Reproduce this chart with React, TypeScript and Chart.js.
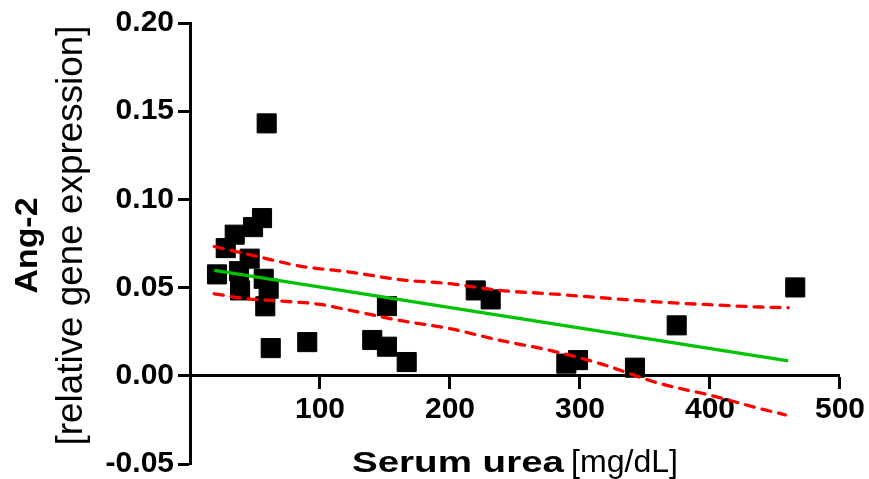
import React, { useEffect, useRef } from "react";
import { Chart, registerables } from "chart.js";

Chart.register(...registerables);

// ---- data ----
const UREA_X = [20.8, 27.5, 34.4, 48.5, 55.4, 59.0, 45.9, 37.7, 38.5, 60.5, 56.7, 57.9, 62.1, 90.2, 140.2, 151.5, 166.7, 151.5, 219.8, 231.3, 289.5, 298.5, 342.3, 374.4, 465.6];
const ANG2_Y = [0.0575, 0.0724, 0.08, 0.0843, 0.0894, 0.1431, 0.0664, 0.0593, 0.0484, 0.0494, 0.055, 0.0394, 0.0157, 0.0191, 0.0203, 0.0165, 0.0078, 0.0395, 0.0484, 0.0433, 0.0069, 0.0089, 0.0046, 0.0286, 0.0501];

const FIT_X = [18.7, 460.2];
const FIT_Y = [0.0597, 0.0084];

const UPPER_X = [18.7, 53.8, 84.6, 123.1, 161.5, 200, 238.5, 276.9, 315.4, 361.5, 400, 438.5, 460.2];
const UPPER_Y = [0.0733, 0.0673, 0.0622, 0.0588, 0.0545, 0.0522, 0.0484, 0.0465, 0.0443, 0.0418, 0.0403, 0.039, 0.0386];

const LOWER_X = [18.7, 43.6, 69.2, 100, 123.1, 161.5, 200, 238.5, 276.9, 315.4, 361.5, 400, 438.5, 458];
const LOWER_Y = [0.0465, 0.0437, 0.0424, 0.0405, 0.0371, 0.0314, 0.0267, 0.0201, 0.0144, 0.0069, -0.0044, -0.011, -0.0186, -0.0221];

const X_TICKS = [100, 200, 300, 400, 500];
const Y_TICKS = [-0.05, 0, 0.05, 0.1, 0.15, 0.2];

const X_TITLE_BOLD = "Serum urea";
const X_TITLE_UNIT = "[mg/dL]";
const Y_TITLE_BOLD = "Ang-2";
const Y_TITLE_SUB = "[relative gene expression]";

const FONT = '"Liberation Sans", Arial, Helvetica, sans-serif';

const zip = (xs: number[], ys: number[]) => xs.map((x, i) => ({ x, y: ys[i] }));

// draw text stretched along its own direction to a target length
function fillStretched(ctx: CanvasRenderingContext2D, text: string, x: number, y: number, target: number) {
  const w = ctx.measureText(text).width;
  const s = target / w;
  ctx.save();
  ctx.translate(x, y);
  ctx.scale(s, 1);
  ctx.fillText(text, 0, 0);
  ctx.restore();
}

const titlePlugin = {
  id: "axisTitles",
  afterDraw(chart: any) {
    const { ctx, chartArea } = chart;
    ctx.save();
    ctx.fillStyle = "#000";
    ctx.textBaseline = "alphabetic";
    ctx.textAlign = "left";

    // x title
    const boldW = 212;
    const unitW = 107;
    const gap = 7;
    const total = boldW + gap + unitW;
    const cx = (chartArea.left + chartArea.right) / 2;
    const x0 = cx - total / 2;
    const by = chart.height - 7.5;
    ctx.font = `bold 30px ${FONT}`;
    fillStretched(ctx, X_TITLE_BOLD, x0, by, boldW);
    ctx.font = `32px ${FONT}`;
    fillStretched(ctx, X_TITLE_UNIT, x0 + boldW + gap, by, unitW);

    // y title
    const cy = (chartArea.top + chartArea.bottom) / 2;
    ctx.save();
    ctx.translate(37, cy + 2);
    ctx.rotate(-Math.PI / 2);
    ctx.font = `bold 31px ${FONT}`;
    fillStretched(ctx, Y_TITLE_BOLD, -48, 0, 96);
    ctx.restore();
    ctx.save();
    ctx.translate(81.5, cy - 8);
    ctx.rotate(-Math.PI / 2);
    ctx.font = `37px ${FONT}`;
    fillStretched(ctx, Y_TITLE_SUB, -210, 0, 420);
    ctx.restore();

    ctx.restore();
  },
};

export default function App() {
  const ref = useRef<HTMLCanvasElement | null>(null);

  useEffect(() => {
    document.body.style.margin = "0";
    const canvas = ref.current;
    if (!canvas) return;
    const chart = new Chart(canvas, {
      type: "scatter",
      data: {
        datasets: [
          {
            type: "line",
            label: "fit",
            data: zip(FIT_X, FIT_Y),
            borderColor: "#00c400",
            borderWidth: 3.3,
            pointRadius: 0,
            fill: false,
            order: 0,
          },
          {
            type: "line",
            label: "upper",
            data: zip(UPPER_X, UPPER_Y),
            borderColor: "#ff0000",
            borderWidth: 3.3,
            borderDash: [9, 8],
            borderCapStyle: "round",
            pointRadius: 0,
            cubicInterpolationMode: "monotone",
            fill: false,
            order: 0,
          },
          {
            type: "line",
            label: "lower",
            data: zip(LOWER_X, LOWER_Y),
            borderColor: "#ff0000",
            borderWidth: 3.3,
            borderDash: [9, 8],
            borderCapStyle: "round",
            pointRadius: 0,
            cubicInterpolationMode: "monotone",
            fill: false,
            order: 0,
          },
          {
            type: "scatter",
            label: "data",
            data: zip(UREA_X, ANG2_Y),
            pointStyle: "rect",
            pointRadius: 13.5,
            pointBackgroundColor: "#000",
            pointBorderColor: "#000",
            pointBorderWidth: 1,
            order: 1,
          },
        ],
      },
      options: {
        responsive: false,
        animation: false,
        devicePixelRatio: 1,
        layout: { padding: { left: 0, right: 29, top: 23, bottom: 15 } },
        plugins: { legend: { display: false }, tooltip: { enabled: false } },
        scales: {
          x: {
            type: "linear",
            min: 0,
            max: 500,
            position: { y: 0 } as any,
            afterBuildTicks: (scale: any) => {
              scale.ticks = X_TICKS.map((v) => ({ value: v }));
            },
            grid: {
              drawOnChartArea: false,
              drawTicks: true,
              tickLength: 12,
              tickWidth: 3,
              tickColor: "#000",
              color: "#000",
            },
            border: { display: true, width: 3, color: "#000" },
            ticks: {
              color: "#000",
              padding: 4,
              font: { family: FONT, size: 30, weight: "bold" },
              callback: (v: any) => String(v),
            },
          },
          y: {
            type: "linear",
            min: -0.05,
            max: 0.2,
            afterBuildTicks: (scale: any) => {
              scale.ticks = Y_TICKS.map((v) => ({ value: v }));
            },
            afterFit: (scale: any) => {
              scale.width = 190;
            },
            grid: {
              drawOnChartArea: false,
              drawTicks: true,
              tickLength: 12,
              tickWidth: 3,
              tickColor: "#000",
              color: "#000",
            },
            border: { display: true, width: 3, color: "#000" },
            ticks: {
              color: "#000",
              padding: 4,
              font: { family: FONT, size: 30, weight: "bold", lineHeight: 0.5 },
              callback: (v: any) => Number(v).toFixed(2),
            },
          },
        },
      },
      plugins: [titlePlugin],
    });
    return () => chart.destroy();
  }, []);

  return (
    <div style={{ width: 869, height: 479 }}>
      <canvas ref={ref} width={869} height={479} style={{ display: "block" }} />
    </div>
  );
}
